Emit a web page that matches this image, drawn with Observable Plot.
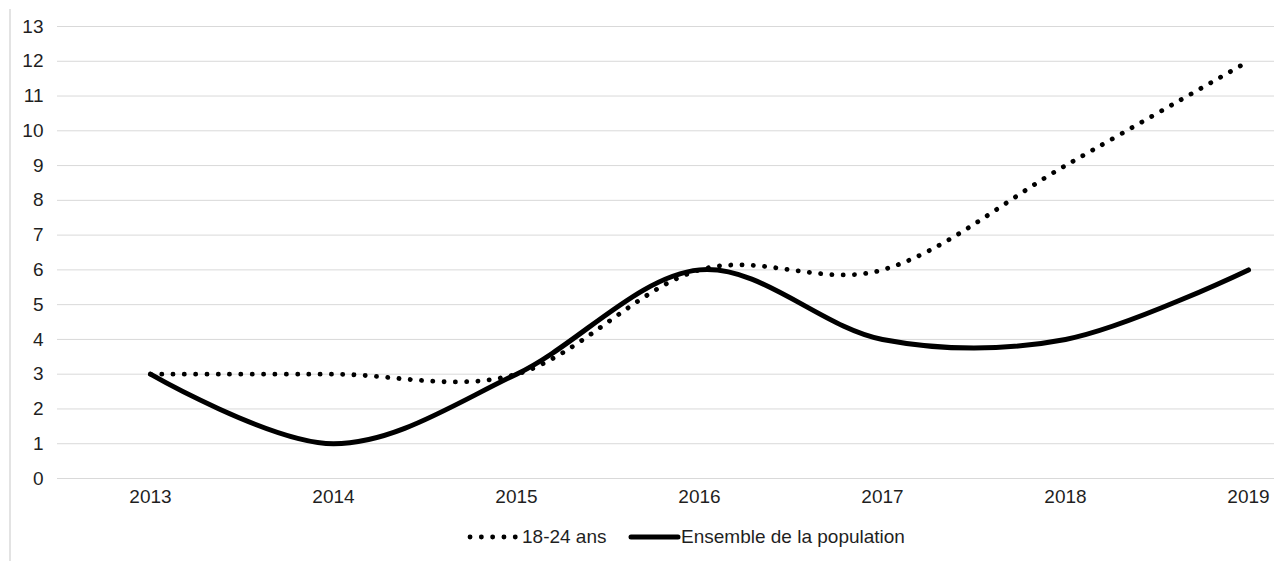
<!DOCTYPE html>
<html>
<head>
<meta charset="utf-8">
<script src="https://cdn.jsdelivr.net/npm/d3@7"></script>
<script src="https://cdn.jsdelivr.net/npm/@observablehq/plot@0.6"></script>
<style>
  html, body { margin: 0; padding: 0; background: #fff; }
  body { width: 1274px; height: 561px; overflow: hidden; position: relative; font-family: "Liberation Sans", Arial, sans-serif; }
  #border { position: absolute; left: 9px; top: 9px; width: 0; height: 560px; border-left: 2px solid #e3e3e3; }
  #chart { position: absolute; left: 0; top: 0; }
  #legend { position: absolute; top: 527px; left: 0; width: 1274px; font-size: 19px; color: #1f1f1f; }
  .item { position: absolute; top: 0; display: flex; align-items: center; height: 20px; }
</style>
</head>
<body>
<div id="border"></div>
<div id="chart"></div>
<div id="legend"></div>
<script>
const years = ["2013", "2014", "2015", "2016", "2017", "2018", "2019"];
const jeunes = [3, 3, 3, 6, 6, 9, 12];
const ensemble = [3, 1, 3, 6, 4, 4, 6];
const yTicks = [0, 1, 2, 3, 4, 5, 6, 7, 8, 9, 10, 11, 12, 13];
const seriesNames = ["18-24 ans", "Ensemble de la population"];

const dataJ = years.map((y, i) => ({year: y, value: jeunes[i]}));
const dataE = years.map((y, i) => ({year: y, value: ensemble[i]}));

const chart = Plot.plot({
  width: 1274,
  height: 515,
  marginLeft: 57,
  marginRight: 0,
  marginTop: 26,
  marginBottom: 37,
  style: {fontFamily: "'Liberation Sans', Arial, sans-serif", fontSize: "19px", color: "#1f1f1f", background: "transparent"},
  x: {type: "point", domain: years, range: [148, 1250], padding: 0},
  y: {domain: [0, 13]},
  marks: [
    Plot.gridY(yTicks, {stroke: "#d9d9d9", strokeOpacity: 1, strokeWidth: 1}),
    Plot.axisY(yTicks, {tickSize: 0, tickPadding: 14, label: null, fontSize: 19}),
    Plot.axisX({tickSize: 0, tickPadding: 11, label: null, fontSize: 19}),
    Plot.line(dataJ, {x: "year", y: "value", curve: "cardinal", stroke: "#000", strokeWidth: 4.8, strokeDasharray: "0.1 11.2", strokeLinecap: "round"}),
    Plot.line(dataE, {x: "year", y: "value", curve: "cardinal", stroke: "#000", strokeWidth: 5, strokeLinecap: "round"})
  ]
});
document.getElementById("chart").appendChild(chart);

const legend = document.getElementById("legend");
legend.innerHTML = `
  <div class="item" style="left:464px">
    <svg width="58" height="20"><line x1="6" y1="10" x2="53" y2="10" stroke="#000" stroke-width="4.8" stroke-dasharray="0.1 11.2" stroke-linecap="round"/></svg>
    <span>${seriesNames[0]}</span>
  </div>
  <div class="item" style="left:628px">
    <svg width="53" height="20"><line x1="3" y1="10" x2="50" y2="10" stroke="#000" stroke-width="5" stroke-linecap="round"/></svg>
    <span>${seriesNames[1]}</span>
  </div>`;
</script>
</body>
</html>
